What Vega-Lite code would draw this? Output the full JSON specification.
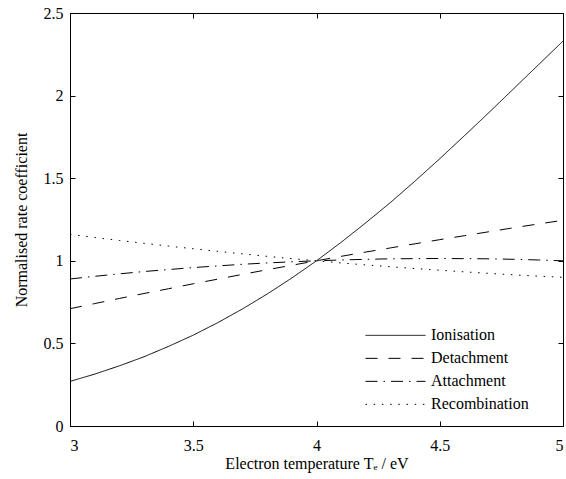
{
  "$schema": "https://vega.github.io/schema/vega-lite/v6.json",
  "width": 493,
  "height": 413,
  "autosize": "none",
  "padding": {"left": 70, "top": 13, "right": 3, "bottom": 53},
  "background": "white",
  "config": {
    "view": {"stroke": "black", "strokeWidth": 1},
    "font": "Liberation Serif",
    "axis": {
      "labelFont": "Liberation Serif",
      "titleFont": "Liberation Serif",
      "labelFontSize": 16,
      "titleFontSize": 16,
      "titleFontWeight": "normal",
      "labelColor": "black",
      "titleColor": "black",
      "domainColor": "black",
      "tickColor": "black",
      "grid": false,
      "tickSize": -5
    },
    "legend": {
      "labelFont": "Liberation Serif",
      "labelFontSize": 16,
      "labelColor": "black"
    }
  },
  "data": {
    "values": [
      {"T": 3.0, "Ionisation": 0.270, "Detachment": 0.710, "Attachment": 0.890, "Recombination": 1.160},
      {"T": 3.1, "Ionisation": 0.314, "Detachment": 0.741, "Attachment": 0.906, "Recombination": 1.141},
      {"T": 3.2, "Ionisation": 0.364, "Detachment": 0.772, "Attachment": 0.921, "Recombination": 1.123},
      {"T": 3.3, "Ionisation": 0.419, "Detachment": 0.802, "Attachment": 0.935, "Recombination": 1.106},
      {"T": 3.4, "Ionisation": 0.482, "Detachment": 0.831, "Attachment": 0.947, "Recombination": 1.089},
      {"T": 3.5, "Ionisation": 0.550, "Detachment": 0.861, "Attachment": 0.959, "Recombination": 1.073},
      {"T": 3.6, "Ionisation": 0.626, "Detachment": 0.889, "Attachment": 0.969, "Recombination": 1.057},
      {"T": 3.7, "Ionisation": 0.709, "Detachment": 0.918, "Attachment": 0.979, "Recombination": 1.042},
      {"T": 3.8, "Ionisation": 0.799, "Detachment": 0.946, "Attachment": 0.987, "Recombination": 1.027},
      {"T": 3.9, "Ionisation": 0.896, "Detachment": 0.973, "Attachment": 0.994, "Recombination": 1.013},
      {"T": 4.0, "Ionisation": 1.000, "Detachment": 1.000, "Attachment": 1.000, "Recombination": 1.000},
      {"T": 4.1, "Ionisation": 1.112, "Detachment": 1.027, "Attachment": 1.005, "Recombination": 0.987},
      {"T": 4.2, "Ionisation": 1.230, "Detachment": 1.053, "Attachment": 1.009, "Recombination": 0.975},
      {"T": 4.3, "Ionisation": 1.353, "Detachment": 1.078, "Attachment": 1.012, "Recombination": 0.964},
      {"T": 4.4, "Ionisation": 1.483, "Detachment": 1.103, "Attachment": 1.013, "Recombination": 0.953},
      {"T": 4.5, "Ionisation": 1.618, "Detachment": 1.128, "Attachment": 1.014, "Recombination": 0.943},
      {"T": 4.6, "Ionisation": 1.757, "Detachment": 1.152, "Attachment": 1.013, "Recombination": 0.933},
      {"T": 4.7, "Ionisation": 1.898, "Detachment": 1.176, "Attachment": 1.012, "Recombination": 0.924},
      {"T": 4.8, "Ionisation": 2.042, "Detachment": 1.200, "Attachment": 1.009, "Recombination": 0.915},
      {"T": 4.9, "Ionisation": 2.186, "Detachment": 1.223, "Attachment": 1.005, "Recombination": 0.907},
      {"T": 5.0, "Ionisation": 2.330, "Detachment": 1.245, "Attachment": 1.000, "Recombination": 0.900}
    ]
  },
  "transform": [
    {"fold": ["Ionisation", "Detachment", "Attachment", "Recombination"], "as": ["process", "k"]}
  ],
  "layer": [
    {
      "mark": {"type": "line", "color": "black", "strokeWidth": 1},
      "encoding": {
        "x": {
          "field": "T", "type": "quantitative",
          "scale": {"domain": [3, 5], "nice": false},
          "axis": {"orient": "bottom", "values": [3, 3.5, 4, 4.5, 5], "labelExpr": "'' + datum.value", "title": "Electron temperature Tₑ / eV", "labelPadding": 16, "titlePadding": 2}
        },
        "y": {
          "field": "k", "type": "quantitative",
          "scale": {"domain": [0, 2.5], "nice": false},
          "axis": {"orient": "left", "values": [0, 0.5, 1, 1.5, 2, 2.5], "labelExpr": "'' + datum.value", "title": "Normalised rate coefficient", "labelPadding": 12, "titlePadding": 14}
        },
        "strokeDash": {
          "field": "process", "type": "nominal",
          "scale": {
            "domain": ["Ionisation", "Detachment", "Attachment", "Recombination"],
            "range": [[1, 0], [12, 11], [12, 6, 1.5, 6], [1.5, 6.7]]
          },
          "legend": {
            "title": null,
            "orient": "none",
            "legendX": 295,
            "legendY": 311,
            "symbolType": "stroke",
            "symbolSize": 3600,
            "symbolStrokeColor": "black",
            "symbolStrokeWidth": 1,
            "clipHeight": 22.7,
            "rowPadding": 0,
            "labelOffset": 5,
            "padding": 0
          }
        }
      }
    },
    {
      "mark": {"type": "line", "color": "black", "strokeOpacity": 0},
      "encoding": {
        "x": {
          "field": "T", "type": "quantitative",
          "axis": {"orient": "top", "values": [3, 3.5, 4, 4.5, 5], "labels": false, "title": null}
        },
        "y": {
          "field": "k", "type": "quantitative",
          "axis": {"orient": "right", "values": [0, 0.5, 1, 1.5, 2, 2.5], "labels": false, "title": null}
        },
        "detail": {"field": "process", "type": "nominal"}
      }
    }
  ],
  "resolve": {"axis": {"x": "independent", "y": "independent"}}
}
